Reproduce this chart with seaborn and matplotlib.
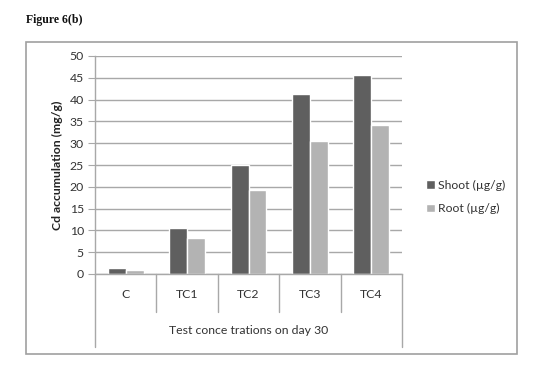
import matplotlib
matplotlib.use("Agg")
import matplotlib.pyplot as plt
import seaborn as sns
import pandas as pd
from matplotlib.patches import Rectangle
import matplotlib.transforms as mtransforms

categories = ["C", "TC1", "TC2", "TC3", "TC4"]
shoot = [1.3, 10.5, 25.0, 41.2, 45.6]
root = [0.9, 8.3, 19.2, 30.6, 34.1]
series_names = ["Shoot (\u00b5g/g)", "Root (\u00b5g/g)"]
yticks = list(range(0, 55, 5))

df = pd.DataFrame({
    "cat": categories * 2,
    "val": shoot + root,
    "series": [series_names[0]] * 5 + [series_names[1]] * 5,
})

sns.set_style("white")
plt.rcParams["font.family"] = ["Lato", "DejaVu Sans"]

W, H = 539, 381
FS = 8.8
fig = plt.figure(figsize=(W / 100, H / 100), dpi=100)
ax = fig.add_axes([95 / W, 1 - 274 / H, (402 - 95) / W, (274 - 56) / H])

sns.barplot(data=df, x="cat", y="val", hue="series", order=categories,
            hue_order=series_names, palette=["#5f5f5f", "#b3b3b3"],
            width=0.58, saturation=1, ax=ax, legend=True)

ax.set_ylim(0, 50)
ax.set_xlim(-0.5, 4.5)
ax.set_yticks(yticks)
ax.set_yticklabels([str(v) for v in yticks], fontsize=FS, color="#333333")
ax.grid(axis="y", color="#a8a8a8", linewidth=1)
ax.set_axisbelow(True)
for s in ["top", "right"]:
    ax.spines[s].set_visible(False)
for s in ["left", "bottom"]:
    ax.spines[s].set_color("#a8a8a8")
    ax.spines[s].set_linewidth(1)
ax.tick_params(axis="y", length=5, color="#a8a8a8", pad=3, left=True)
ax.tick_params(axis="x", length=0, pad=11, labelsize=FS, labelcolor="#333333")
ax.set_xlabel("")
ax.set_ylabel("Cd accumulation (mg/g)", fontsize=FS, fontweight="bold",
              color="#222222", labelpad=5)

# category separators below axis
trans = mtransforms.blended_transform_factory(ax.transData, ax.transAxes)
for i, x in enumerate([-0.5, 0.5, 1.5, 2.5, 3.5, 4.5]):
    bottom = -(347 - 274) / 218 if i in (0, 5) else -(312 - 274) / 218
    ax.plot([x, x], [0, bottom], transform=trans, color="#a8a8a8",
            linewidth=1, clip_on=False)

ax.text(0.5, -(331 - 274) / 218, "Test conce trations on day 30",
        transform=ax.transAxes, ha="center", va="center", fontsize=FS,
        color="#333333")

leg = ax.legend(loc="center left", bbox_to_anchor=(415 / W, 1 - 197 / H),
                bbox_transform=fig.transFigure, frameon=False, fontsize=FS,
                handlelength=0.7, handleheight=0.7, handletextpad=0.3,
                labelspacing=1.0)
for t in leg.get_texts():
    t.set_color("#333333")

fig.add_artist(Rectangle((26 / W, 1 - 354 / H), (517 - 26) / W, (354 - 42) / H,
                         transform=fig.transFigure, fill=False,
                         edgecolor="#a0a0a0", linewidth=1.2))

fig.text(26 / W, 1 - 20 / H, "Figure 6(b)", fontsize=8.5, fontweight="bold",
         family=["Liberation Serif"], ha="left", va="center", color="#111111")

fig.savefig("out.png", dpi=100)
